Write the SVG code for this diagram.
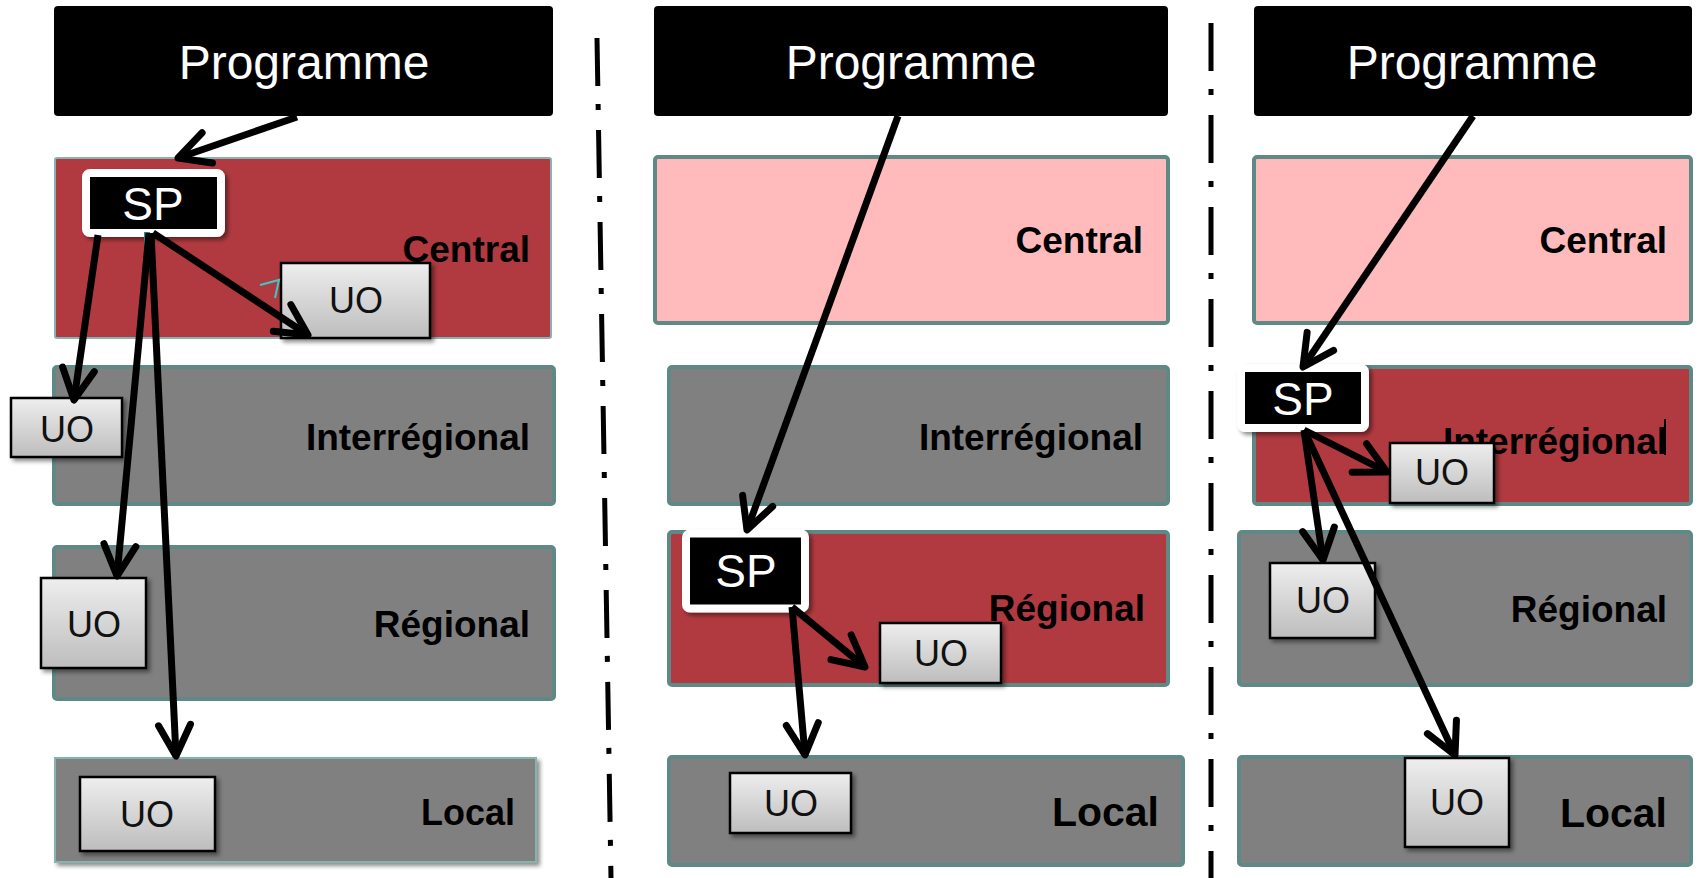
<svg xmlns="http://www.w3.org/2000/svg" width="1700" height="878" viewBox="0 0 1700 878">
<style>
text{font-family:"Liberation Sans",Arial,sans-serif}
.prog rect{fill:#000}
.prog text{fill:#fff;font-size:48px;text-anchor:middle}
.band{stroke:#5F8986;stroke-width:4}
.red{fill:#B13A40}
.gray{fill:#808080}
.pink{fill:#FFBBBB}
.thin{stroke:#86B2B0;stroke-width:2}
.lbl{font-weight:bold;font-size:37px;text-anchor:end;fill:#000}
.big{font-size:41px}
.sp rect{fill:#000;stroke:#fff;stroke-width:8}
.sp text{fill:#fff;font-size:46px;text-anchor:middle}
.uo rect{fill:url(#uog);stroke:#000;stroke-width:2.5}
.uo text{fill:#111;font-size:36px;text-anchor:middle}
.arr{fill:none;stroke:#000;stroke-width:7;marker-end:url(#ah)}
.sep{stroke:#000;stroke-width:5;stroke-dasharray:48 18 6 20}
</style>
<defs>
<linearGradient id="uog" x1="0" y1="0" x2="0" y2="1">
<stop offset="0" stop-color="#EEEEEE"/>
<stop offset="1" stop-color="#BDBDBD"/>
</linearGradient>
<filter id="sh" x="-20%" y="-20%" width="150%" height="150%">
<feDropShadow dx="3" dy="3" stdDeviation="2" flood-color="#000" flood-opacity="0.45"/>
</filter>
<marker id="ah" markerUnits="userSpaceOnUse" viewBox="-40 -20 45 40" refX="0" refY="0" markerWidth="45" markerHeight="40" orient="auto" overflow="visible">
<path d="M-31,-16 L0,0 L-31,16" fill="none" stroke="#000" stroke-width="7" stroke-linecap="round" stroke-linejoin="round"/>
</marker>
</defs>
<rect width="1700" height="878" fill="#fff"/>

<g id="separators">
<line class="sep" x1="597" y1="38" x2="611" y2="878"/>
<line class="sep" x1="1211" y1="23" x2="1211" y2="878"/>
</g>

<!-- Panel 1 -->
<g id="p1-programme" class="prog"><rect x="54" y="6" width="499" height="110" rx="4"/><text x="304" y="79">Programme</text></g>
<g id="p1-central"><rect class="red thin" x="55" y="158" width="496" height="180" rx="2"/><text class="lbl" x="530" y="262">Central</text></g>
<g id="p1-interregional"><rect class="gray band" x="54" y="367" width="500" height="137" rx="3"/><text class="lbl" x="530" y="450">Interrégional</text></g>
<g id="p1-regional"><rect class="gray band" x="54" y="547" width="500" height="152" rx="3"/><text class="lbl" x="530" y="637">Régional</text></g>
<g id="p1-local"><rect class="gray thin" x="55" y="758" width="481" height="104" filter="url(#sh)"/><text class="lbl" x="515" y="825" style="font-size:36px">Local</text></g>
<g id="p1-sp" class="sp"><rect x="86" y="173" width="135" height="60" rx="4" filter="url(#sh)"/><text x="153" y="220">SP</text></g>
<rect x="144" y="232" width="6" height="15" fill="#2E8C8C"/>
<g id="p1-uo-central" class="uo"><rect x="281" y="263" width="149" height="75" filter="url(#sh)"/><text x="356" y="313">UO</text></g>
<polyline points="260,285 279,280 275,298" fill="none" stroke="#3CC8C8" stroke-width="2"/>
<g id="p1-uo-interregional" class="uo"><rect x="11" y="398" width="111" height="59" filter="url(#sh)"/><text x="67" y="442">UO</text></g>
<g id="p1-uo-regional" class="uo"><rect x="41" y="578" width="105" height="90" filter="url(#sh)"/><text x="94" y="637">UO</text></g>
<g id="p1-uo-local" class="uo"><rect x="80" y="777" width="135" height="74" filter="url(#sh)"/><text x="147" y="827">UO</text></g>

<!-- Panel 2 -->
<g id="p2-programme" class="prog"><rect x="654" y="6" width="514" height="110" rx="4"/><text x="911" y="79">Programme</text></g>
<g id="p2-central"><rect class="pink band" x="655" y="157" width="513" height="166" rx="3"/><text class="lbl" x="1143" y="253">Central</text></g>
<g id="p2-interregional"><rect class="gray band" x="669" y="367" width="499" height="137" rx="3"/><text class="lbl" x="1143" y="450">Interrégional</text></g>
<g id="p2-regional"><rect class="red band" x="669" y="532" width="499" height="153" rx="3"/><text class="lbl" x="1145" y="621">Régional</text></g>
<g id="p2-local"><rect class="gray band" x="669" y="757" width="514" height="108" rx="3"/><text class="lbl big" x="1159" y="826">Local</text></g>
<g id="p2-sp" class="sp"><rect x="686" y="533.5" width="119" height="75" rx="4" filter="url(#sh)"/><text x="746" y="587">SP</text></g>
<g id="p2-uo-regional" class="uo"><rect x="880" y="623" width="121" height="60" filter="url(#sh)"/><text x="941" y="666">UO</text></g>
<g id="p2-uo-local" class="uo"><rect x="730" y="773" width="121" height="60" filter="url(#sh)"/><text x="791" y="816">UO</text></g>

<!-- Panel 3 -->
<g id="p3-programme" class="prog"><rect x="1254" y="6" width="438" height="110" rx="4"/><text x="1472" y="79">Programme</text></g>
<g id="p3-central"><rect class="pink band" x="1254" y="157" width="437" height="166" rx="3"/><text class="lbl" x="1667" y="253">Central</text></g>
<g id="p3-interregional"><rect class="red band" x="1254" y="367" width="437" height="137" rx="3"/><text class="lbl" x="1667" y="454">Interrégional</text><line x1="1665" y1="419" x2="1665" y2="455" stroke="#000" stroke-width="2"/></g>
<g id="p3-regional"><rect class="gray band" x="1239" y="532" width="452" height="153" rx="3"/><text class="lbl" x="1667" y="622">Régional</text></g>
<g id="p3-local"><rect class="gray band" x="1239" y="757" width="452" height="108" rx="3"/><text class="lbl big" x="1667" y="827">Local</text></g>
<g id="p3-sp" class="sp"><rect x="1241" y="368" width="124" height="60" rx="4" filter="url(#sh)"/><text x="1303" y="415">SP</text></g>
<g id="p3-uo-interregional" class="uo"><rect x="1390" y="443" width="104" height="60" filter="url(#sh)"/><text x="1442" y="485">UO</text></g>
<g id="p3-uo-regional" class="uo"><rect x="1270" y="563" width="105" height="75" filter="url(#sh)"/><text x="1323" y="613">UO</text></g>
<g id="p3-uo-local" class="uo"><rect x="1405" y="758" width="104" height="89" filter="url(#sh)"/><text x="1457" y="815">UO</text></g>

<g id="connectors">
<path class="arr" d="M297,117 L178,158"/>
<path class="arr" d="M98,235 L74,400"/>
<path class="arr" d="M149,233 L117,576"/>
<path class="arr" d="M151,233 L176,756"/>
<path class="arr" d="M153,233 L308,335"/>
<path class="arr" d="M898,116 L747,530"/>
<path class="arr" d="M792,607 L865,667"/>
<path class="arr" d="M792,607 L805,755"/>
<path class="arr" d="M1473,116 L1303,367"/>
<path class="arr" d="M1304,430 L1387,472"/>
<path class="arr" d="M1304,430 L1323,560"/>
<path class="arr" d="M1304,430 L1455,755"/>
</g>
</svg>
